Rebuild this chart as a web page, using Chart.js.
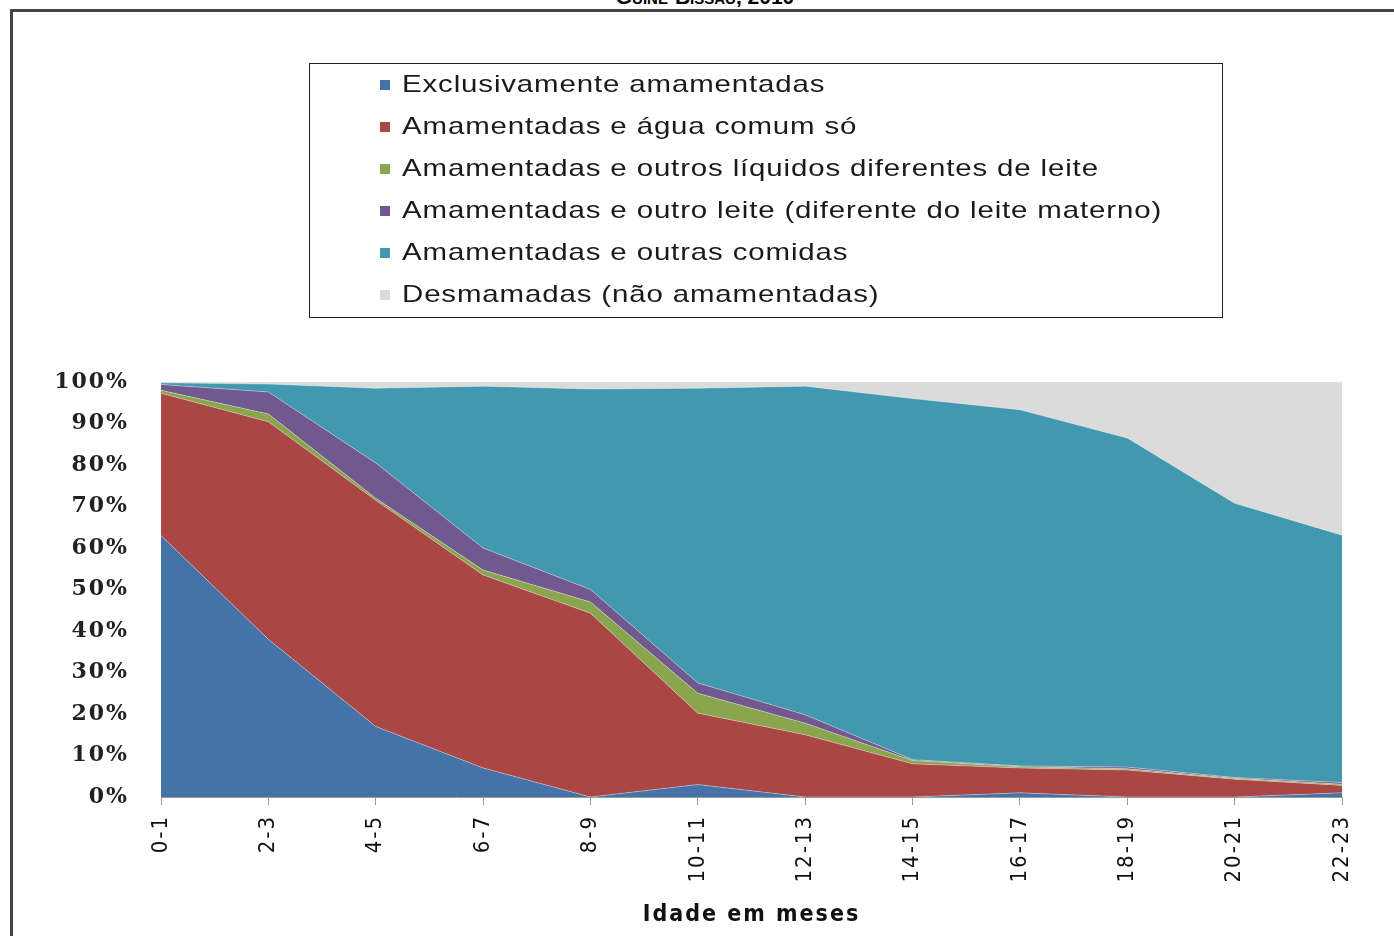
<!DOCTYPE html>
<html>
<head>
<meta charset="utf-8">
<script src="https://cdn.jsdelivr.net/npm/chart.js@4.4.1/dist/chart.umd.min.js"></script>
<style>
    html, body { margin: 0; padding: 0; background: #fff; }
    #page { position: relative; width: 1394px; height: 936px; overflow: hidden; }
    #frame {
        position: absolute; left: 10px; top: 9px; right: -4px; bottom: -4px;
        border-top: 3px solid #444; border-left: 3px solid #444;
    }
    #topTitle {
        position: absolute; left: 0; width: 1410px; top: -15px; text-align: center;
        font: bold 21px "Liberation Sans", Arial, sans-serif; font-variant: small-caps;
        color: #000;
    }
    #legendBox {
        position: absolute; left: 309px; top: 63px; width: 914px; height: 255px;
        border: 1px solid #222; box-sizing: border-box;
    }
    .leg-item {
        position: absolute; left: 70px; height: 30px; line-height: 30px;
        font: 24px "Liberation Sans", Arial, sans-serif;
        color: #1a1a1a; white-space: nowrap;
    }
    .leg-item .mark {
        position: absolute; left: 0; top: 10px; width: 10px; height: 10px;
    }
    .leg-item .txt {
        position: absolute; left: 22px; top: 0;
        letter-spacing: 0.7px; transform: scaleX(1.227); transform-origin: 0 50%;
    }
    #chartWrap { position: absolute; left: 0; top: 0; width: 1394px; height: 936px; }
</style>
</head>
<body>
<div id="page">
    <div id="topTitle">Guiné-Bissau, 2010</div>
    <div id="frame"></div>
    <div id="chartWrap"><canvas id="areaChart" width="1394" height="936"></canvas></div>
    <div id="legendBox"></div>
</div>
<script>
const ageLabels = ["0-1", "2-3", "4-5", "6-7", "8-9", "10-11", "12-13", "14-15", "16-17", "18-19", "20-21", "22-23"];

const exclusivas    = [63, 38, 17, 7, 0, 3, 0, 0, 1, 0, 0, 1];
const aguaComum     = [34.3, 52.4, 54.5, 46.5, 44.3, 17.2, 15, 8, 6, 6.5, 4.3, 1.8];
const outrosLiquidos = [0.7, 1.9, 0.5, 1.2, 2.7, 4.8, 2.8, 0.8, 0.3, 0.3, 0.2, 0.3];
const outroLeite    = [1.4, 5.3, 8.5, 5.3, 3, 2.5, 2, 0.2, 0.2, 0.4, 0.2, 0.4];
const outrasComidas = [0.4, 1.9, 18, 39, 48.3, 71, 79.2, 87, 85.8, 79.3, 66.1, 59.6];
const desmamadas    = [0.2, 0.5, 1.5, 1, 1.7, 1.5, 1, 4, 6.7, 13.5, 29.2, 36.9];

const seriesNames = [
    "Exclusivamente amamentadas",
    "Amamentadas e água comum só",
    "Amamentadas e outros líquidos diferentes de leite",
    "Amamentadas e outro leite (diferente do leite materno)",
    "Amamentadas e outras comidas",
    "Desmamadas (não amamentadas)"
];
const seriesColors = ["#4572A7", "#AA4643", "#89A54E", "#71588F", "#4198AF", "#DBDBDB"];
const seriesData = [exclusivas, aguaComum, outrosLiquidos, outroLeite, outrasComidas, desmamadas];

// legend drawn as html, one row per series
const legendBox = document.getElementById("legendBox");
seriesNames.forEach((name, i) => {
    const item = document.createElement("div");
    item.className = "leg-item";
    item.style.top = (6 + i * 42) + "px";
    item.innerHTML = `<span class="mark" style="background:${seriesColors[i]}"></span><span class="txt">${name}</span>`;
    legendBox.appendChild(item);
});

const datasets = seriesData.map((vals, i) => ({
    label: seriesNames[i],
    data: vals,
    backgroundColor: seriesColors[i],
    borderColor: "rgba(255,255,255,0.35)",
    borderWidth: 1,
    pointRadius: 0,
    tension: 0,
    fill: i === 0 ? "origin" : "-1"
}));

// axis text in the picture is spaced out, widen it a bit
const spacedText = {
    id: "spacedText",
    beforeLayout(chart) { chart.ctx.letterSpacing = "2px"; },
    beforeDraw(chart) { chart.ctx.letterSpacing = "2px"; },
    beforeDatasetsDraw(chart) { chart.ctx.letterSpacing = "0px"; }
};

new Chart(document.getElementById("areaChart"), {
    type: "line",
    data: { labels: ageLabels, datasets: datasets },
    plugins: [spacedText],
    options: {
        responsive: false,
        animation: false,
        layout: { padding: { top: 382, right: 52, left: 0, bottom: 0 } },
        plugins: {
            legend: { display: false },
            tooltip: { enabled: false }
        },
        scales: {
            x: {
                offset: false,
                grid: { drawOnChartArea: false, drawTicks: true, tickLength: 8, color: "#999" },
                border: { display: true, color: "#999" },
                ticks: {
                    minRotation: 90, maxRotation: 90, padding: 10,
                    color: "#111",
                    font: { family: "DejaVu Sans Condensed", size: 22 }
                },
                title: {
                    display: true,
                    text: "Idade em meses",
                    color: "#111",
                    padding: { top: 0, bottom: 7 },
                    font: { family: "DejaVu Sans Condensed", size: 23, weight: "bold" }
                },
                afterFit: s => { s.height = 139; }
            },
            y: {
                stacked: true,
                min: 0, max: 100,
                grid: { display: false, drawTicks: false },
                border: { display: false },
                ticks: {
                    stepSize: 10, padding: 32,
                    color: "#222",
                    font: { family: "DejaVu Serif", size: 22, weight: "bold" },
                    callback: v => v + "%"
                },
                afterFit: s => { s.width = 161; }
            }
        }
    }
});
</script>
</body>
</html>
